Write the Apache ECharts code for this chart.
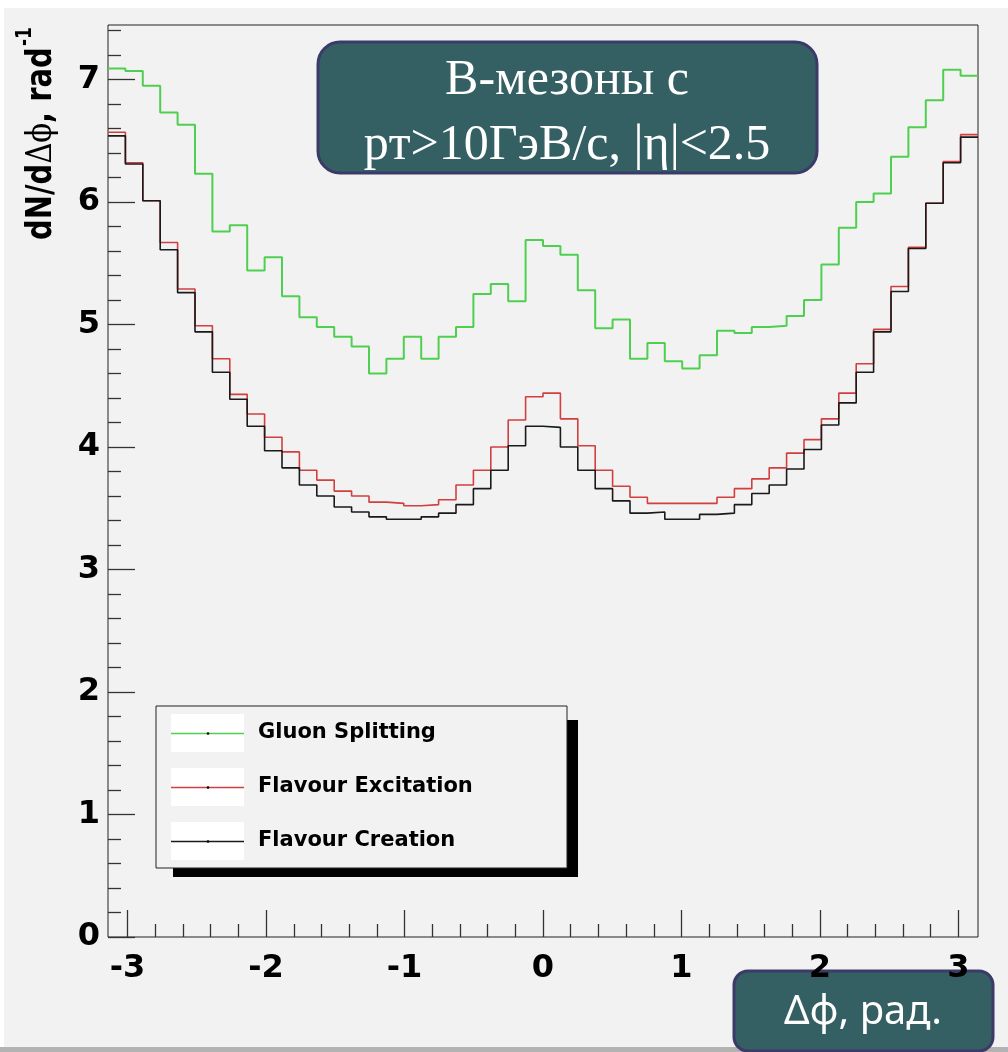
<!DOCTYPE html>
<html>
<head>
<meta charset="utf-8">
<script src="https://cdn.jsdelivr.net/npm/echarts@6/dist/echarts.min.js"></script>
<style>
html, body { margin: 0; padding: 0; background: #fff; }
#chart { width: 1008px; height: 1052px; }
</style>
</head>
<body>
<div id="chart"></div>
<script>
// названия и цвета гистограмм
var seriesNames = ['Gluon Splitting', 'Flavour Excitation', 'Flavour Creation'];
var seriesColors = ['#4fcf4f', '#d23f3f', '#1a1a1a'];

// 50 бинов по dphi от -pi до pi
var gluonSplitting = [
	7.09, 7.07, 6.95, 6.73, 6.63, 6.23, 5.76, 5.81, 5.44, 5.55,
	5.23, 5.06, 4.98, 4.90, 4.82, 4.60, 4.72, 4.90, 4.72, 4.90,
	4.98, 5.25, 5.33, 5.19, 5.69, 5.64, 5.57, 5.28, 4.97, 5.04,
	4.72, 4.85, 4.70, 4.64, 4.75, 4.95, 4.93, 4.98, 4.99, 5.07,
	5.20, 5.49, 5.79, 6.00, 6.07, 6.37, 6.61, 6.83, 7.08, 7.03
];
var flavourExcitation = [
	6.57, 6.32, 6.01, 5.67, 5.29, 4.99, 4.72, 4.43, 4.27, 4.08,
	3.96, 3.81, 3.73, 3.64, 3.60, 3.55, 3.54, 3.52, 3.53, 3.57,
	3.69, 3.81, 4.00, 4.22, 4.41, 4.44, 4.23, 4.01, 3.81, 3.68,
	3.59, 3.54, 3.54, 3.54, 3.54, 3.59, 3.66, 3.74, 3.83, 3.95,
	4.06, 4.23, 4.44, 4.68, 4.96, 5.31, 5.63, 5.99, 6.33, 6.55
];
var flavourCreation = [
	6.54, 6.31, 6.01, 5.61, 5.26, 4.94, 4.61, 4.39, 4.17, 3.97,
	3.83, 3.69, 3.60, 3.51, 3.47, 3.43, 3.41, 3.41, 3.43, 3.46,
	3.53, 3.66, 3.81, 4.01, 4.17, 4.16, 4.00, 3.81, 3.66, 3.56,
	3.46, 3.47, 3.41, 3.41, 3.45, 3.46, 3.53, 3.62, 3.69, 3.82,
	3.98, 4.18, 4.36, 4.61, 4.94, 5.27, 5.62, 5.99, 6.32, 6.53
];

var xMajorTicks = [-3, -2, -1, 0, 1, 2, 3];
var yMajorTicks = [0, 1, 2, 3, 4, 5, 6, 7];
var xRange = [-Math.PI, Math.PI];
var yRange = [0, 7.445];

var titleLines = ['B-мезоны с', 'pт>10ГэВ/с, |η|<2.5'];
var xTitle = 'Δφ, рад.';

var byId = function(id) {
	return document.getElementById(id);
};

// минорные деления через 0.2
var xMinorTicks = [];
for (var k = -15; k <= 15; k++) {
	if (k % 5 !== 0) xMinorTicks.push(k / 5);
}
var yMinorTicks = [];
for (var k = 1; k <= 37; k++) {
	if (k % 5 !== 0) yMinorTicks.push(k / 5);
}

var histData = [gluonSplitting, flavourExcitation, flavourCreation];
var binWidth = (xRange[1] - xRange[0]) / gluonSplitting.length;

function histSteps(values) {
	var pts = [];
	for (var i = 0; i < values.length; i++) {
		pts.push([xRange[0] + i * binWidth, values[i]]);
	}
	pts.push([xRange[1], values[values.length - 1]]);
	return pts;
}

var tickFont = {
	fontFamily: 'DejaVu Sans',
	fontWeight: 'bold',
	fontSize: 32,
	color: '#000'
};

function makeAxis(min, max, pos, ticks, len, labels) {
	return {
		type: 'value',
		min: min,
		max: max,
		position: pos,
		offset: 0,
		axisLine: { show: false, onZero: false },
		splitLine: { show: false },
		axisTick: {
			show: true,
			inside: true,
			length: len,
			customValues: ticks,
			lineStyle: { color: '#333', width: 1.3 }
		},
		axisLabel: labels ? Object.assign({
			show: true,
			customValues: ticks,
			margin: pos == 'bottom' ? 16 : 8
		}, tickFont) : { show: false }
	};
}

var series = [];
for (var i = 0; i < seriesNames.length; i++) {
	series.push({
		name: seriesNames[i],
		type: 'line',
		step: 'end',
		xAxisIndex: 0,
		yAxisIndex: 0,
		showSymbol: false,
		symbol: 'none',
		data: histSteps(histData[i]),
		lineStyle: { color: seriesColors[i], width: i == 0 ? 2 : 1.6 },
		animation: false
	});
}

// легенда в стиле ROOT, с тенью
var legendX = 156, legendY = 706, legendW = 411, legendH = 162;
var graphics = [
	{ type: 'rect', shape: { x: 0, y: 0, width: 1008, height: 8 }, style: { fill: '#fff' } },
	{ type: 'rect', shape: { x: 0, y: 0, width: 4, height: 1052 }, style: { fill: '#fff' } },
	{ type: 'rect', shape: { x: 0, y: 1047, width: 1008, height: 5 }, style: { fill: '#b3b3b3' } },
	{ type: 'rect', shape: { x: legendX + 17, y: legendY + 14, width: legendW - 6, height: legendH - 5 }, style: { fill: '#000' } },
	{ type: 'rect', shape: { x: legendX, y: legendY, width: legendW, height: legendH }, style: { fill: '#f2f2f2', stroke: '#222', lineWidth: 1 } }
];
for (var i = 0; i < seriesNames.length; i++) {
	var cy = legendY + 27 + i * 54;
	graphics.push({ type: 'rect', shape: { x: legendX + 15, y: cy - 19, width: 73, height: 38 }, style: { fill: '#fff' } });
	graphics.push({ type: 'line', shape: { x1: legendX + 15, y1: cy + 0.5, x2: legendX + 88, y2: cy + 0.5 }, style: { stroke: seriesColors[i], lineWidth: 1.5 } });
	graphics.push({ type: 'circle', shape: { cx: legendX + 52, cy: cy + 0.5, r: 1.3 }, style: { fill: '#000' } });
	graphics.push({
		type: 'text', x: legendX + 102, y: cy,
		style: {
			text: seriesNames[i], fill: '#000',
			font: 'bold 21px "DejaVu Sans"',
			align: 'left', verticalAlign: 'middle', textAlign: 'left', textVerticalAlign: 'middle'
		}
	});
}

// подпись оси Y (повёрнута)
graphics.push({
	type: 'text', x: 42, y: 240, rotation: Math.PI / 2, scaleY: 1.25,
	style: {
		text: '{a|dN/d}{g|Δϕ}{a|, rad}',
		align: 'left', verticalAlign: 'middle', textAlign: 'left', textVerticalAlign: 'middle',
		rich: {
			a: { fontFamily: 'DejaVu Sans', fontWeight: 'bold', fontSize: 29, fill: '#000' },
			g: { fontFamily: 'DejaVu Serif', fontSize: 29, fill: '#000' }
		}
	}
});
graphics.push({
	type: 'text', x: 26, y: 46, rotation: Math.PI / 2, scaleY: 1.2,
	style: {
		text: '-1', fill: '#000', font: 'bold 17px "DejaVu Sans"',
		align: 'left', verticalAlign: 'middle', textAlign: 'left', textVerticalAlign: 'middle'
	}
});

// заголовок в рамке
graphics.push({
	type: 'rect', shape: { x: 318, y: 42, width: 499, height: 131, r: 22 },
	style: { fill: '#356063', stroke: '#3b3a68', lineWidth: 3 }
});
for (var i = 0; i < titleLines.length; i++) {
	graphics.push({
		type: 'text', x: 567, y: 81 + i * 65,
		style: {
			text: titleLines[i], fill: '#fff',
			font: '50px "Liberation Serif"',
			align: 'center', verticalAlign: 'middle', textAlign: 'center', textVerticalAlign: 'middle'
		}
	});
}

// подпись оси X в рамке
graphics.push({
	type: 'rect', shape: { x: 734, y: 971, width: 259, height: 80, r: 14 },
	style: { fill: '#356063', stroke: '#3b3a68', lineWidth: 3 }
});
graphics.push({
	type: 'text', x: 863, y: 1013,
	style: {
		text: xTitle, fill: '#fff',
		font: '40px "Noto Sans"',
		align: 'center', verticalAlign: 'middle', textAlign: 'center', textVerticalAlign: 'middle'
	}
});

var option = {
	backgroundColor: '#f2f2f2',
	animation: false,
	grid: {
		left: 108,
		top: 25,
		width: 870,
		height: 912,
		show: true,
		borderColor: '#222',
		borderWidth: 1,
		backgroundColor: 'transparent'
	},
	xAxis: [
		makeAxis(xRange[0], xRange[1], 'bottom', xMajorTicks, 27, true),
		makeAxis(xRange[0], xRange[1], 'bottom', xMinorTicks, 13, false)
	],
	yAxis: [
		makeAxis(yRange[0], yRange[1], 'left', yMajorTicks, 27, true),
		makeAxis(yRange[0], yRange[1], 'left', yMinorTicks, 13, false)
	],
	series: series,
	graphic: { elements: graphics }
};

var chart = echarts.init(byId('chart'));
chart.setOption(option);
</script>
</body>
</html>
